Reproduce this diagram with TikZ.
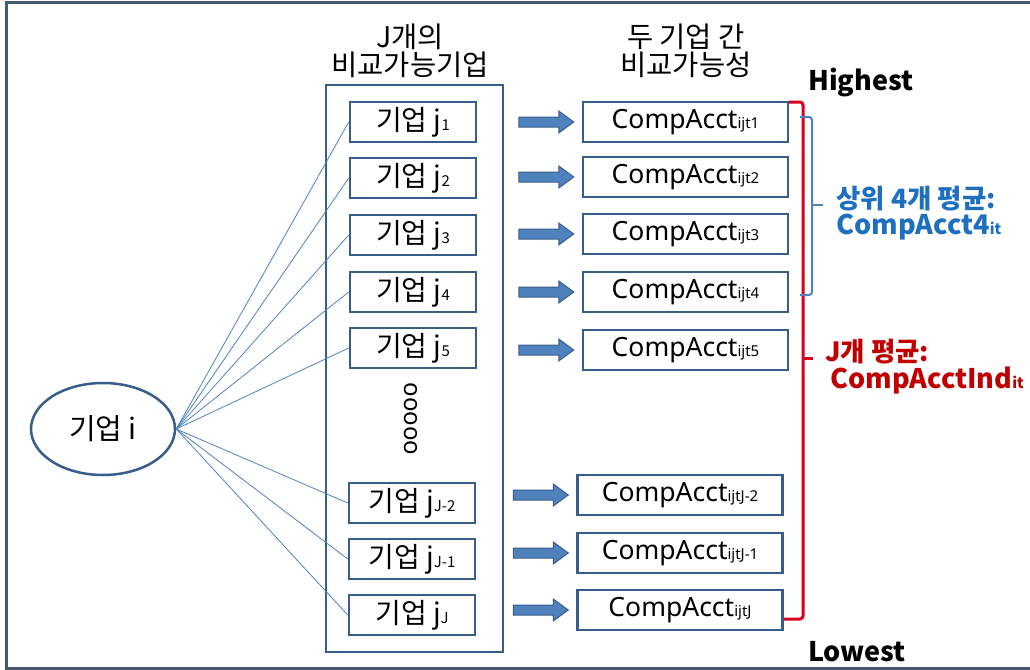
\documentclass[tikz,border=0pt]{standalone}
\usepackage{fontspec}
\setmainfont{Noto Sans CJK KR}
\newfontfamily\lat{Noto Sans}
\usetikzlibrary{calc,shapes.geometric}
\definecolor{boxc}{HTML}{385D8A}
\definecolor{linec}{HTML}{4F81BD}
\definecolor{framec}{HTML}{46586E}
\definecolor{redc}{HTML}{D8001C}
\definecolor{bluet}{HTML}{1F6FC0}
\definecolor{redt}{HTML}{C00000}
\newcommand\sbs[1]{{\fontsize{15}{15}\selectfont #1}}
\begin{document}
\begin{tikzpicture}[x=1pt,y=-1pt,
  jbox/.style={draw=boxc,line width=2.5pt,minimum width=126pt,minimum height=40pt,inner sep=0pt,font=\fontsize{28}{28}\selectfont},
  cbox/.style={jbox,minimum width=205pt,font=\lat\fontsize{26.5}{26.5}\selectfont},
  hdr/.style={font=\fontsize{28.5}{28}\selectfont,align=center},
  spoke/.style={draw=linec,line width=0.8pt},
  barrow/.style={fill=linec,draw=boxc,line width=1pt},
  lbl/.style={font=\fontsize{26.5}{26.5}\selectfont\bfseries},
  latlbl/.style={font=\fontsize{27}{27}\selectfont\bfseries},
  redbr/.style={draw=redc,line width=3pt,rounded corners=3pt},
  bluebr/.style={draw=linec,line width=2pt,rounded corners=3pt}]
\useasboundingbox (0,0) rectangle (1030,669);
\draw[framec,line width=3pt] (1032,3) -- (6,3) -- (6,668) -- (1032,668);

% headers
\node[hdr] (h1) at (410,51) {J개의\\비교가능기업};
\node[hdr] (h2) at (686,51) {두 기업 간\\비교가능성};

% container
\node[draw=boxc,line width=2.5pt,minimum width=177pt,minimum height=567pt,inner sep=0pt] (cont) at (414.5,368.5) {};

% ellipse
\node[ellipse,draw=boxc,line width=2.5pt,minimum width=144pt,minimum height=92pt,inner sep=0pt,font=\fontsize{29}{29}\selectfont] (ei) at (103,429) {기업 i};

% firm boxes
\node[jbox] (j1) at (413,122) {기업 j\sbs{1}};
\node[jbox] (j2) at (413,178) {기업 j\sbs{2}};
\node[jbox] (j3) at (413,235) {기업 j\sbs{3}};
\node[jbox] (j4) at (413,292) {기업 j\sbs{4}};
\node[jbox] (j5) at (413,348) {기업 j\sbs{5}};
\node[jbox] (j6) at (412,503) {기업 j\sbs{J-2}};
\node[jbox] (j7) at (412,559) {기업 j\sbs{J-1}};
\node[jbox] (j8) at (412,615) {기업 j\sbs{J}};
\node[rotate=-90,font=\lat\fontsize{24}{24}\selectfont,inner sep=0pt] (dots) at (411,419) {ooooo};

% comparability boxes
\node[cbox] (c1) at (685.5,122) {CompAcct\sbs{ijt1}};
\node[cbox] (c2) at (685.5,177) {CompAcct\sbs{ijt2}};
\node[cbox] (c3) at (685.5,234) {CompAcct\sbs{ijt3}};
\node[cbox] (c4) at (685.5,292) {CompAcct\sbs{ijt4}};
\node[cbox] (c5) at (685.5,350) {CompAcct\sbs{ijt5}};
\node[cbox] (c6) at (680,495) {CompAcct\sbs{ijtJ-2}};
\node[cbox] (c7) at (680,553) {CompAcct\sbs{ijtJ-1}};
\node[cbox] (c8) at (680,610) {CompAcct\sbs{ijtJ}};

% spokes
\foreach \n in {1,...,8}{\draw[spoke] (ei.east) -- (j\n.west);}

% block arrows
\foreach \n in {1,...,8}{
  \coordinate (as\n) at ($(c\n.west)+(-63,0)$);
  \coordinate (ae\n) at ($(c\n.west)+(-8,0)$);
  \draw[barrow] ($(as\n)+(0,-5)$) -- ($(ae\n)+(-15,-5)$) -- ($(ae\n)+(-15,-11)$) -- (ae\n)
     -- ($(ae\n)+(-15,11)$) -- ($(ae\n)+(-15,5)$) -- ($(as\n)+(0,5)$) -- cycle;
}

% brackets
\draw[redbr] (789,102) -- (803,102) -- (803,619) -- (784,619);
\draw[redc,line width=3pt] (803,358) -- (813,358);
\draw[bluebr] (800,117) -- (812,117) -- (812,295) -- (800,295);
\draw[linec,line width=2pt] (812,205) -- (823,205);

% labels
\node[latlbl] (hi) at (861,83) {Highest};
\node[latlbl] (lo) at (857,652) {Lowest};
\node[lbl,text=bluet,anchor=west,inner sep=0pt] (t4a) at (836,199) {상위 4개 평균:};
\node[latlbl,text=bluet,anchor=west,inner sep=0pt] (t4b) at (836,227) {CompAcct4\sbs{it}};
\node[lbl,text=redt,anchor=west,inner sep=0pt] (ja) at (825,352) {J개 평균:};
\node[latlbl,text=redt,anchor=west,inner sep=0pt] (jb) at (830,381) {CompAcctInd\sbs{it}};
\end{tikzpicture}
\end{document}
